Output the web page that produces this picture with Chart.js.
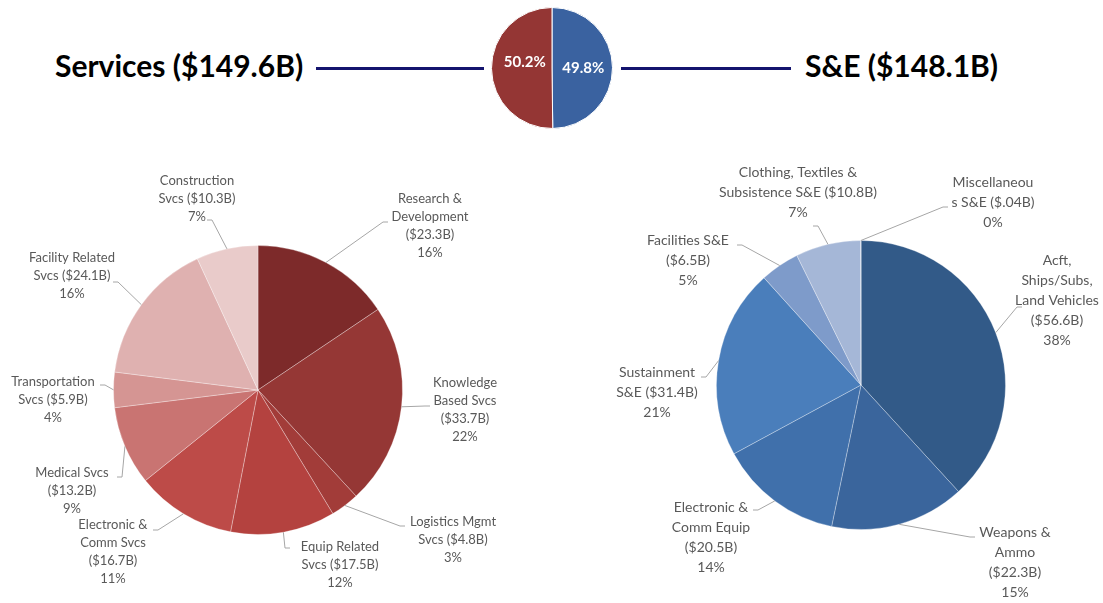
<!DOCTYPE html>
<html>
<head>
<meta charset="utf-8">
<script src="https://cdn.jsdelivr.net/npm/chart.js@4.4.0/dist/chart.umd.min.js"></script>
<style>
  body { margin: 0; background: #fff; font-family: Lato, sans-serif; }
  #wrap { position: relative; width: 1103px; height: 603px; overflow: hidden; }
  .title { position: absolute; font-weight: 700; font-size: 30px; line-height: 1; color: #000; white-space: nowrap; }
  .rule { position: absolute; height: 3px; background: #14146e; }
  canvas { position: absolute; }
</style>
</head>
<body>
<div id="wrap">
  <div class="title" style="left:55px;top:50px">Services ($149.6B)</div>
  <div class="rule" style="left:316px;top:67px;width:168px"></div>
  <div class="rule" style="left:621px;top:67px;width:170px"></div>
  <div class="title" style="left:805px;top:50px">S&amp;E ($148.1B)</div>
  <canvas id="top" width="144" height="136" style="left:480px;top:0"></canvas>
  <canvas id="svc" width="551" height="463" style="left:0;top:140px"></canvas>
  <canvas id="se" width="552" height="463" style="left:551px;top:140px"></canvas>
</div>
<script>
// Datos del gráfico superior (participación)
var topLabels = ['S&E', 'Services'];
var topValues = [49.8, 50.2];
var topColors = ['#3a62a0', '#943634'];

// Servicios ($B), en sentido horario desde arriba
var svcLabels = [
  ['Research &', 'Development', '($23.3B)', '16%'],
  ['Knowledge', 'Based Svcs', '($33.7B)', '22%'],
  ['Logistics Mgmt', 'Svcs ($4.8B)', '3%'],
  ['Equip Related', 'Svcs ($17.5B)', '12%'],
  ['Electronic &', 'Comm Svcs', '($16.7B)', '11%'],
  ['Medical Svcs', '($13.2B)', '9%'],
  ['Transportation', 'Svcs ($5.9B)', '4%'],
  ['Facility Related', 'Svcs ($24.1B)', '16%'],
  ['Construction', 'Svcs ($10.3B)', '7%']
];
var svcValues = [23.3, 33.7, 4.8, 17.5, 16.7, 13.2, 5.9, 24.1, 10.3];
var svcColors = ['#7d2a2a', '#953735', '#a23c39', '#b4423f', '#bd4b48', '#c97472', '#d59593', '#dfb1b0', '#e9cbca'];

// Suministros y equipos ($B)
var seLabels = [
  ['Acft,', 'Ships/Subs,', 'Land Vehicles', '($56.6B)', '38%'],
  ['Weapons &', 'Ammo', '($22.3B)', '15%'],
  ['Electronic &', 'Comm Equip', '($20.5B)', '14%'],
  ['Sustainment', 'S&E ($31.4B)', '21%'],
  ['Facilities S&E', '($6.5B)', '5%'],
  ['Clothing, Textiles &', 'Subsistence S&E ($10.8B)', '7%'],
  ['Miscellaneou', 's S&E ($.04B)', '0%']
];
var seValues = [56.6, 22.3, 20.5, 31.4, 6.5, 10.8, 0.04];
var seColors = ['#325a88', '#3a659c', '#4070ab', '#4a7ebb', '#7e9bca', '#a5b7d7', '#c5d0e6'];

// Posición de etiquetas relativa al centro: texto (x, y primera línea) e inicio de la guía (lx, ly)
var svcPos = [
  {x: 172, y: -191, lx: 130, ly: -168},
  {x: 207, y: -7, lx: 172, ly: 16},
  {x: 195, y: 132, lx: 147, ly: 136},
  {x: 82, y: 157, lx: 32, ly: 158},
  {x: -145, y: 135, lx: -105, ly: 140},
  {x: -186, y: 83, lx: -141, ly: 87},
  {x: -205, y: -8, lx: -158, ly: -5},
  {x: -186, y: -132, lx: -145, ly: -108},
  {x: -61, y: -209, lx: -51, ly: -170}
];
var sePos = [
  {x: 196, y: -125, lx: 161, ly: -78},
  {x: 154, y: 147, lx: 114, ly: 152},
  {x: -150, y: 122, lx: -108, ly: 125},
  {x: -204, y: -13, lx: -160, ly: -8},
  {x: -173, y: -145, lx: -124, ly: -140},
  {x: -63, y: -213, lx: -48, ly: -159},
  {x: 132, y: -203, lx: 87, ly: -178}
];

// Plugin: etiquetas con líneas guía
function leaderLabels(lines, pos, size, lh) {
  return {
    id: 'leaderLabels',
    afterDraw: function(chart) {
      var ctx = chart.ctx;
      var arcs = chart.getDatasetMeta(0).data;
      ctx.save();
      ctx.font = size + 'px Lato';
      ctx.fillStyle = '#595959';
      ctx.textAlign = 'center';
      ctx.textBaseline = 'middle';
      ctx.strokeStyle = '#a6a6a6';
      ctx.lineWidth = 1;
      arcs.forEach(function(arc, i) {
        var p = pos[i];
        var mid = (arc.startAngle + arc.endAngle) / 2;
        var tx = arc.x + Math.cos(mid) * arc.outerRadius;
        var ty = arc.y + Math.sin(mid) * arc.outerRadius;
        var sx = arc.x + p.lx, sy = arc.y + p.ly;
        var dir = tx > sx ? 1 : -1;
        ctx.beginPath();
        ctx.moveTo(sx, sy);
        ctx.lineTo(sx + dir * 5, sy);
        ctx.lineTo(tx, ty);
        ctx.stroke();
        lines[i].forEach(function(t, k) {
          ctx.fillText(t, arc.x + p.x, arc.y + p.y + k * lh);
        });
      });
      ctx.restore();
    }
  };
}

// Plugin: porcentajes dentro del gráfico superior
var topPctOffset = [{x: 1, y: 0}, {x: 3, y: -6}];
var insideLabels = {
  id: 'insideLabels',
  afterDraw: function(chart) {
    var ctx = chart.ctx;
    ctx.save();
    ctx.font = 'bold 15px Lato';
    ctx.fillStyle = '#ffffff';
    ctx.textAlign = 'center';
    ctx.textBaseline = 'middle';
    chart.getDatasetMeta(0).data.forEach(function(arc, i) {
      var p = arc.tooltipPosition();
      ctx.fillText(topValues[i].toFixed(1) + '%', p.x + topPctOffset[i].x, p.y + topPctOffset[i].y);
    });
    ctx.restore();
  }
};

function pieOptions(pad) {
  return {
    responsive: false,
    animation: false,
    layout: { padding: pad },
    plugins: {
      legend: { display: false },
      tooltip: { enabled: false },
      title: { display: false }
    }
  };
}

new Chart(document.getElementById('top').getContext('2d'), {
  type: 'pie',
  data: {
    labels: topLabels,
    datasets: [{ data: topValues, backgroundColor: topColors, borderColor: '#ffffff', borderWidth: 1 }]
  },
  options: pieOptions({ left: 11, right: 11, top: 7, bottom: 7 }),
  plugins: [insideLabels]
});

new Chart(document.getElementById('svc').getContext('2d'), {
  type: 'pie',
  data: {
    labels: svcLabels.map(function(l) { return l.join(' '); }),
    datasets: [{ data: svcValues, backgroundColor: svcColors, borderColor: 'rgba(255,255,255,0.3)', borderWidth: 1 }]
  },
  options: pieOptions({ left: 113, right: 148, top: 105, bottom: 68 }),
  plugins: [leaderLabels(svcLabels, svcPos, 13, 18)]
});

new Chart(document.getElementById('se').getContext('2d'), {
  type: 'pie',
  data: {
    labels: seLabels.map(function(l) { return l.join(' '); }),
    datasets: [{ data: seValues, backgroundColor: seColors, borderColor: 'rgba(255,255,255,0.3)', borderWidth: 1 }]
  },
  options: pieOptions({ left: 165, right: 97, top: 100, bottom: 73 }),
  plugins: [leaderLabels(seLabels, sePos, 14, 20)]
});
</script>
</body>
</html>
